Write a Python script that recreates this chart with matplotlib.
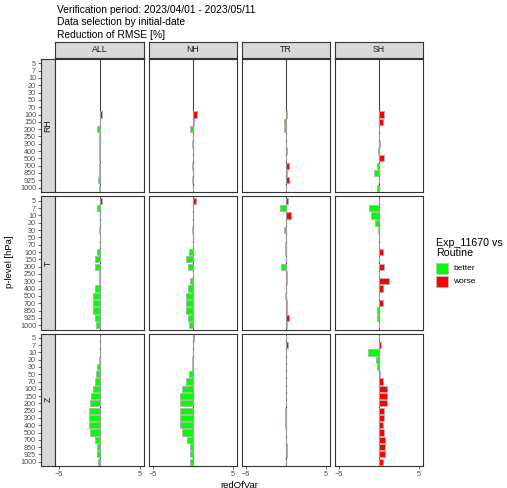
import numpy as np
import matplotlib
matplotlib.use("Agg")
import matplotlib.pyplot as plt
from matplotlib.patches import Rectangle

plt.rcParams["font.family"] = ["Liberation Sans", "DejaVu Sans"]

levels = ["5", "7", "10", "20", "30", "50", "70", "100", "150", "200",
          "250", "300", "400", "500", "700", "850", "925", "1000"]
regions = ["ALL", "NH", "TR", "SH"]
variables = ["RH", "T", "Z"]
nan = np.nan

# reduction of RMSE [%], one list per variable / region, order of levels
rh_all = [nan, nan, nan, nan, nan, nan, nan, 0.3, 0.02, -0.3, -0.02, -0.03, -0.03, -0.03, -0.02, -0.02, -0.2, -0.03]
rh_nh = [nan, nan, nan, nan, nan, nan, nan, 0.5, 0.1, -0.35, -0.02, -0.05, -0.02, -0.03, -0.05, -0.02, -0.1, -0.02]
rh_tr = [nan, nan, nan, nan, nan, nan, nan, 0.1, -0.2, -0.2, -0.02, -0.03, 0.1, 0.03, 0.4, 0.1, 0.4, 0.03]
rh_sh = [nan, nan, nan, nan, nan, nan, nan, 0.65, 0.5, 0.05, 0.02, 0.1, -0.1, 0.6, -0.3, -0.6, 0.03, -0.3]

t_all = [0.37, -0.3, 0.02, 0.02, -0.05, 0.02, 0.02, -0.35, -0.6, -0.6, -0.03, -0.05, -0.5, -0.75, -0.75, -0.75, -0.6, -0.4]
t_nh = [0.4, -0.03, 0.02, 0.02, -0.05, 0.02, -0.03, -0.45, -0.8, -0.65, -0.03, -0.3, -0.6, -0.8, -0.85, -0.8, -0.65, -0.45]
t_tr = [0.3, -0.7, 0.6, 0.02, -0.25, 0.02, -0.05, -0.05, 0.02, -0.55, 0.2, 0.2, 0.02, -0.05, 0.2, 0.2, 0.45, 0.15]
t_sh = [0.02, -1.25, -1.0, -0.5, -0.1, 0.02, 0.02, 0.5, 0.02, 0.65, 0.02, 1.3, 0.45, 0.02, 0.5, -0.25, -0.2, 0.02]

z_all = [0.02, 0.02, 0.02, -0.05, -0.25, -0.4, -0.6, -0.85, -1.05, -1.2, -1.3, -1.35, -1.35, -1.2, -0.5, -0.25, -0.35, -0.2]
z_nh = [0.1, 0.02, 0.02, -0.05, -0.15, -0.45, -0.8, -1.3, -1.55, -1.55, -1.55, -1.55, -1.55, -1.35, -0.7, -0.4, -0.4, -0.35]
z_tr = [0.02, 0.25, 0.02, 0.02, 0.02, 0.02, 0.02, 0.02, 0.02, -0.03, -0.1, -0.1, -0.05, -0.03, 0.03, 0.1, 0.15, 0.05]
z_sh = [0.02, 0.2, -1.4, -0.35, -0.3, 0.1, 0.55, 1.0, 1.0, 1.0, 0.65, 0.6, 0.55, 0.65, 0.8, 0.8, 0.75, 0.55]

data = {
    "RH": [rh_all, rh_nh, rh_tr, rh_sh],
    "T": [t_all, t_nh, t_tr, t_sh],
    "Z": [z_all, z_nh, z_tr, z_sh],
}

W, H = 507, 488
fig = plt.figure(figsize=(W / 100, H / 100), dpi=100)


def box(x0, y0, x1, y1):
    return [x0 / W, 1 - y1 / H, (x1 - x0) / W, (y1 - y0) / H]


cols = [(55, 144), (148.5, 237), (241.5, 330), (335, 423)]
rows = [(59, 192), (196.5, 329.5), (333.5, 466)]
border = "#333333"
stripfill = "#D9D9D9"
tickcol = "#4D4D4D"
yy = np.arange(len(levels))
ylim = (len(levels) - 0.4, -0.6)

for j, reg in enumerate(regions):
    sa = fig.add_axes(box(cols[j][0], 42, cols[j][1], 57.5))
    sa.set_facecolor(stripfill)
    sa.set_xticks([]); sa.set_yticks([])
    for s in sa.spines.values():
        s.set_color(border); s.set_linewidth(0.8)
    sa.text(0.5, 0.5, reg, ha="center", va="center", fontsize=6.3, color="#1A1A1A",
            transform=sa.transAxes)

for i, var in enumerate(variables):
    r0, r1 = rows[i]
    la = fig.add_axes(box(41, r0, 55, r1))
    la.set_facecolor(stripfill)
    la.set_ylim(ylim)
    la.set_xticks([])
    la.set_yticks(yy)
    la.set_yticklabels(levels)
    la.tick_params(axis="y", length=2.5, width=0.6, color=tickcol, labelsize=5.2,
                   labelcolor=tickcol, pad=1)
    for s in la.spines.values():
        s.set_color(border); s.set_linewidth(0.8)
    la.text(0.5, 0.5, var, ha="center", va="center", rotation=90, fontsize=6.3,
            color="#1A1A1A", transform=la.transAxes)
    for j, reg in enumerate(regions):
        ax = fig.add_axes(box(cols[j][0], r0, cols[j][1], r1))
        vals = np.array(data[var][j], dtype=float)
        colors = ["#FF0000" if v > 0 else "#00FF00" for v in np.nan_to_num(vals)]
        ax.axvline(0, color="#444444", lw=0.8, zorder=1)
        ax.barh(yy, vals, height=0.85, color=colors, edgecolor="#B0B0B0",
                linewidth=0.6, zorder=2)
        ax.set_xlim(-5.5, 5.5)
        ax.set_ylim(ylim)
        ax.set_yticks([])
        if i == len(variables) - 1:
            ax.set_xticks([-5, 5])
            ax.tick_params(axis="x", length=2.5, width=0.6, color=tickcol,
                           labelsize=5.2, labelcolor=tickcol, pad=1)
        else:
            ax.set_xticks([])
        for s in ax.spines.values():
            s.set_color(border); s.set_linewidth(0.8)

fig.text(57 / W, 1 - 5 / H,
         "Verification period: 2023/04/01 - 2023/05/11\nData selection by initial-date\nReduction of RMSE [%]",
         ha="left", va="top", fontsize=7.4, linespacing=1.3, color="black")
fig.text(239 / W, 1 - 485 / H, "redOfVar", ha="center", va="center", fontsize=6.8)
fig.text(10 / W, 1 - 262 / H, "p-level [hPa]", ha="center", va="center",
         rotation=90, fontsize=6.8)

# legend
fig.text(436 / W, 1 - 238 / H, "Exp_11670 vs\nRoutine", ha="left", va="top",
         fontsize=7.7, linespacing=1.0)
for k, (lab, c) in enumerate([("better", "#00FF00"), ("worse", "#FF0000")]):
    y0 = 262.5 + k * 13.5
    fig.patches.append(Rectangle((436 / W, 1 - (y0 + 11) / H), 11.5 / W, 11 / H,
                                 transform=fig.transFigure, facecolor=c,
                                 edgecolor="#C0C0C0", lw=0.6))
    fig.text(453 / W, 1 - (y0 + 5.8) / H, lab, ha="left", va="center", fontsize=6)

fig.savefig("out.png", dpi=100)
